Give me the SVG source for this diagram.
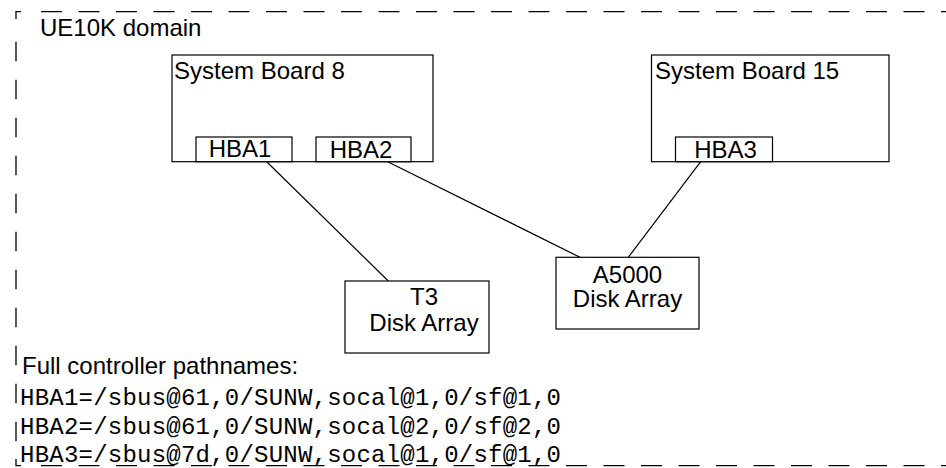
<svg xmlns="http://www.w3.org/2000/svg" width="946" height="468" viewBox="0 0 946 468">
<style>
.box{fill:#fff;stroke:#000;stroke-width:1.2}
.t{font-family:"Liberation Sans",Arial,Helvetica,sans-serif;font-size:24px;fill:#000}
.c{text-anchor:middle}
.m{font-family:"Liberation Mono","Courier New",monospace;font-size:24px;fill:#000}
.bd{fill:none;stroke:#000;stroke-width:1.3}
.conn{fill:none;stroke:#000;stroke-width:1.2}
</style>
<rect width="946" height="468" fill="#fff"/>
<g id="domain">
<path class="bd" d="M16,19 V11.7 H21"/>
<path class="bd" d="M41,11.7 H946" stroke-dasharray="21 16.5"/>
<path class="bd" d="M16,41.7 V441.7" stroke-dasharray="19.5 18.5"/>
<path class="bd" d="M16,459 V465.7 H21"/>
<path class="bd" d="M41,465.7 H946" stroke-dasharray="21 16.5"/>
<text class="t" x="40" y="36">UE10K domain</text>
</g>
<g id="connectors">
<path class="conn" d="M266.7,161.7 L388.3,281"/>
<path class="conn" d="M387.7,161.7 L580,257.3"/>
<path class="conn" d="M700.7,161.7 L628.3,257.3"/>
</g>
<g id="sb8">
<rect class="box" x="172" y="55" width="261" height="106.7"/>
<text class="t" x="174" y="79">System Board 8</text>
</g>
<g id="hba1">
<rect class="box" x="196" y="137" width="96" height="24.7"/>
<text class="t c" x="240" y="157">HBA1</text>
</g>
<g id="hba2">
<rect class="box" x="316" y="137" width="95" height="24.7"/>
<text class="t c" x="361" y="157.5">HBA2</text>
</g>
<g id="sb15">
<rect class="box" x="651.5" y="55" width="237.5" height="106.7"/>
<text class="t" x="655" y="79">System Board 15</text>
</g>
<g id="hba3">
<rect class="box" x="675.5" y="137" width="97" height="24.7"/>
<text class="t c" x="725.5" y="157.5">HBA3</text>
</g>
<g id="t3">
<rect class="box" x="345" y="281" width="144" height="72"/>
<text class="t c" x="424" y="304.5">T3</text>
<text class="t c" x="424" y="331">Disk Array</text>
</g>
<g id="a5000">
<rect class="box" x="556" y="257.3" width="143" height="71.7"/>
<text class="t c" x="627.5" y="282.7">A5000</text>
<text class="t c" x="627.5" y="307.3">Disk Array</text>
</g>
<g id="pathnames">
<text class="t" x="22" y="374">Full controller pathnames:</text>
<text class="m" x="20" y="405" textLength="541" lengthAdjust="spacing">HBA1=/sbus@61,0/SUNW,socal@1,0/sf@1,0</text>
<text class="m" x="20" y="434" textLength="541" lengthAdjust="spacing">HBA2=/sbus@61,0/SUNW,socal@2,0/sf@2,0</text>
<text class="m" x="20" y="462" textLength="541" lengthAdjust="spacing">HBA3=/sbus@7d,0/SUNW,socal@1,0/sf@1,0</text>
</g>
</svg>
